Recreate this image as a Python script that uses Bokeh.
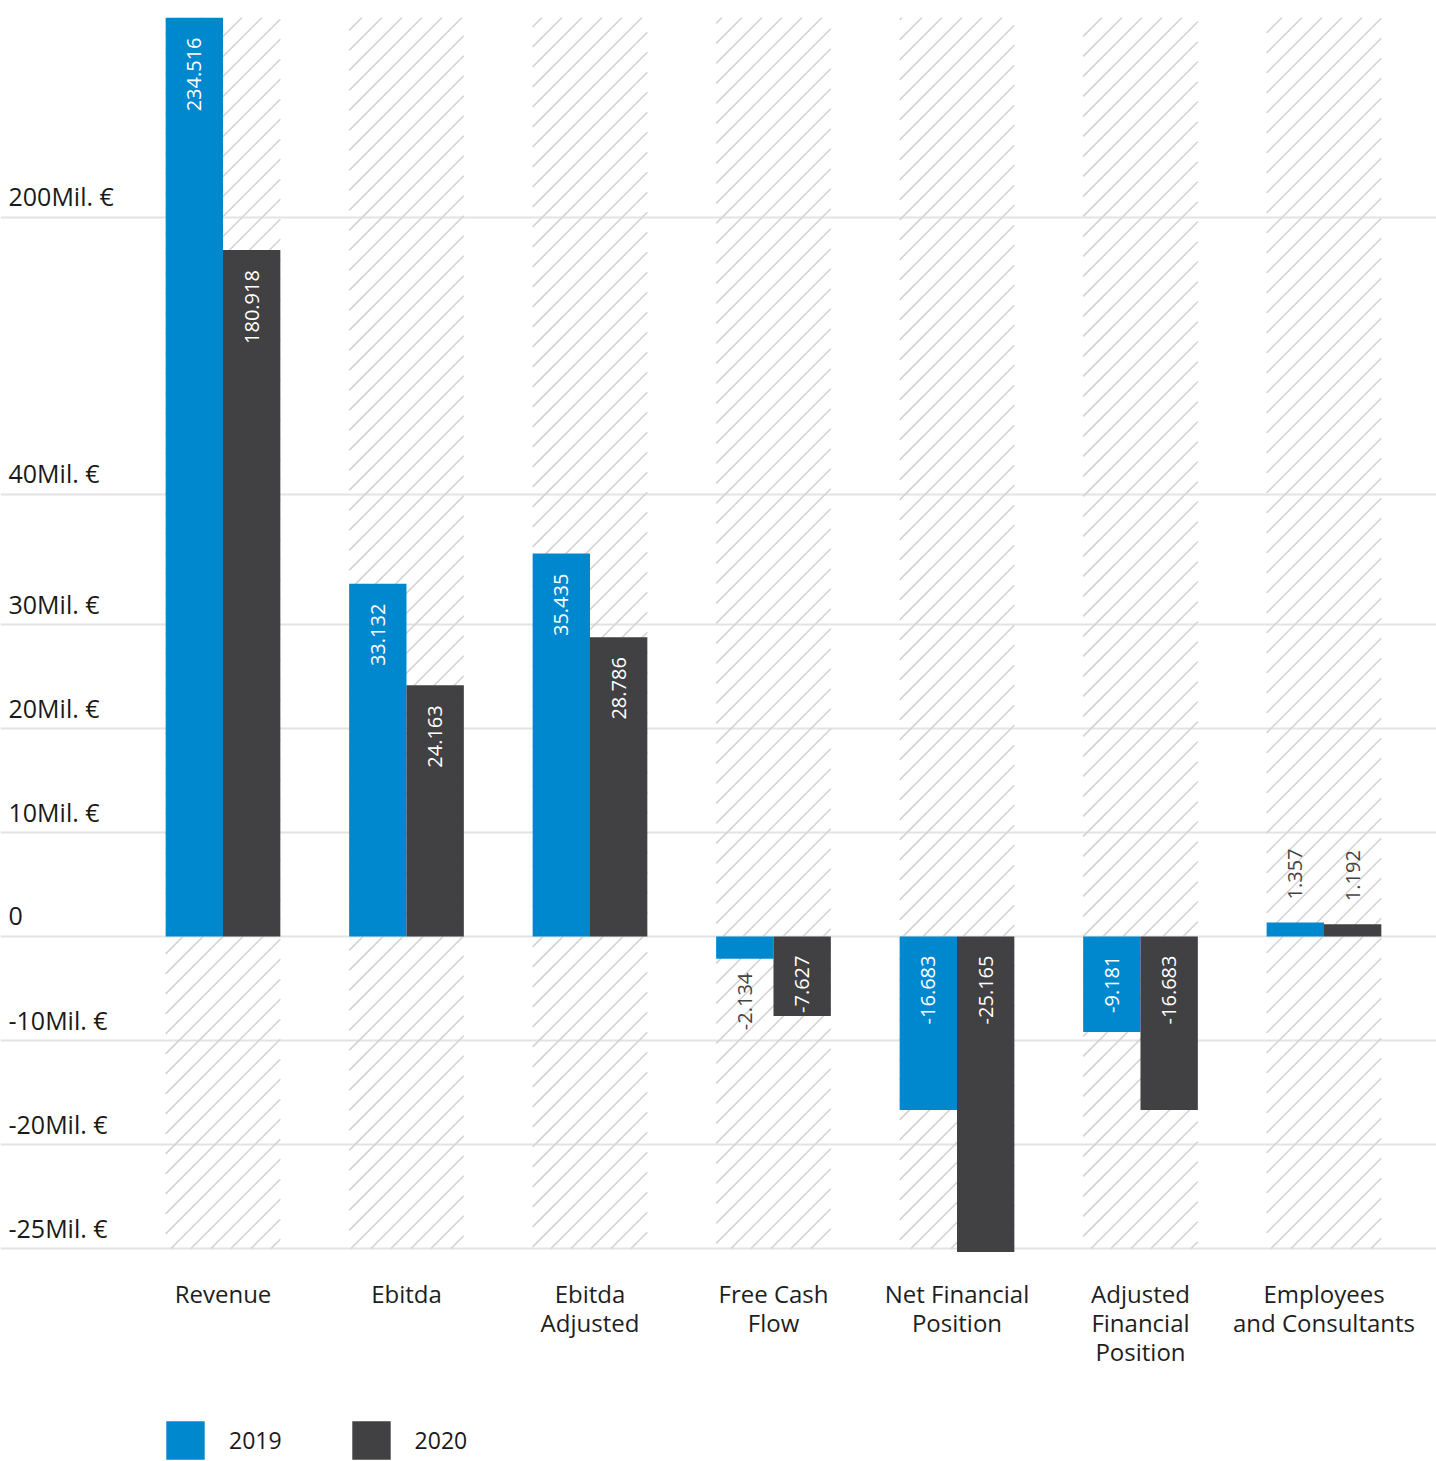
import numpy as np
from bokeh.plotting import figure
from bokeh.models import ColumnDataSource, Range1d, FixedTicker, Legend, LegendItem
from bokeh.core.properties import value
from bokeh.embed import file_html
from bokeh.resources import INLINE

# ---------------- data ----------------
categories = ["Revenue", "Ebitda", "Ebitda\nAdjusted", "Free Cash\nFlow",
              "Net Financial\nPosition", "Adjusted\nFinancial\nPosition",
              "Employees\nand Consultants"]
values_2019 = [234.516, 33.132, 35.435, -2.134, -16.683, -9.181, 1.357]
values_2020 = [180.918, 24.163, 28.786, -7.627, -25.165, -16.683, 1.192]
years = ["2019", "2020"]
tick_values = [-25, -20, -10, 0, 10, 20, 30, 40, 200]
tick_labels = ["-25Mil. €", "-20Mil. €", "-10Mil. €", "0", "10Mil. €",
               "20Mil. €", "30Mil. €", "40Mil. €", "200Mil. €"]

# The original uses a broken, non-uniform value axis: piecewise-linear scale
scale_in = [-25, -20, -10, 0, 10, 20, 30, 40, 200, 240]
scale_out = [-30, -20, -10, 0, 10, 20, 30, 42.55, 69.18, 91.42]


def to_axis(v):
    v = np.atleast_1d(np.asarray(v, dtype=float))
    xi, yi = np.array(scale_in, float), np.array(scale_out, float)
    out = np.interp(v, xi, yi)
    lo, hi = v < xi[0], v > xi[-1]
    out[lo] = yi[0] + (v[lo] - xi[0]) * (yi[1] - yi[0]) / (xi[1] - xi[0])
    out[hi] = yi[-1] + (v[hi] - xi[-1]) * (yi[-1] - yi[-2]) / (xi[-1] - xi[-2])
    return out


BLUE = "#0088CE"
DARK = "#414042"
FONT = "Open Sans"
colors = [BLUE, DARK]

W, H = 1436, 1461
TOP_BORDER = 17
PX_PER_UNIT = 10.4
X_START = -1.2125
X_END = X_START + W / 183.5
KX = W / (X_END - X_START)

idx = np.arange(len(categories))
bar_w = 0.3125
pair_w = 2 * bar_w
y_top = float(to_axis(max(values_2019 + values_2020))[0])
y_bottom = y_top - (H - TOP_BORDER) / PX_PER_UNIT
y_floor = float(to_axis(min(tick_values))[0])

p = figure(width=W, height=H, output_backend="svg", toolbar_location=None,
           x_range=Range1d(X_START, X_END), y_range=Range1d(y_bottom, y_top),
           min_border_left=0, min_border_right=0, min_border_top=TOP_BORDER,
           min_border_bottom=0)
p.outline_line_color = None
p.background_fill_color = "white"
p.border_fill_color = "white"
p.xaxis.visible = False
p.yaxis.visible = False
p.xgrid.visible = False

p.ygrid.ticker = FixedTicker(ticks=list(to_axis(tick_values)))
p.ygrid.grid_line_color = "#e3e3e3"
p.ygrid.grid_line_width = 2

# hatched background columns: 45-degree lines, 20px apart, clipped to each column
HATCH_STEP = 20
hx0, hy0, hx1, hy1 = [], [], [], []
for cx in idx:
    u0, u1 = (cx - pair_w / 2) * KX, (cx + pair_w / 2) * KX
    w0, w1 = y_floor * PX_PER_UNIT, y_top * PX_PER_UNIT
    c = np.ceil((w0 - u1) / HATCH_STEP) * HATCH_STEP
    while c <= w1 - u0:
        ua, ub = max(u0, w0 - c), min(u1, w1 - c)
        if ub > ua:
            hx0.append(ua / KX); hy0.append((ua + c) / PX_PER_UNIT)
            hx1.append(ub / KX); hy1.append((ub + c) / PX_PER_UNIT)
        c += HATCH_STEP
p.segment(hx0, hy0, hx1, hy1, line_color="#d2d2d2", line_width=1.5)

renderers = []
lab_r = dict(x=[], y=[], t=[], off=[], c=[])
lab_l = dict(x=[], y=[], t=[], off=[], c=[])
for k, (vals, col) in enumerate(zip([values_2019, values_2020], colors)):
    xs = idx + (k - 0.5) * bar_w
    disp = to_axis(vals)
    src = ColumnDataSource(dict(x=xs, top=disp, bottom=np.zeros(len(vals))))
    r = p.vbar(x="x", width=bar_w, top="top", bottom="bottom", source=src,
               fill_color=col, line_color=None)
    renderers.append(r)
    for x, v, a in zip(xs, vals, disp):
        txt = f"{v:.3f}"
        if abs(a) >= 5:
            if v > 0:
                lab_r["y"].append(a); lab_r["off"].append(20)
            else:
                lab_r["y"].append(0.0); lab_r["off"].append(19)
            lab_r["x"].append(x); lab_r["t"].append(txt); lab_r["c"].append("white")
        else:
            if v > 0:
                lab_l["x"].append(x); lab_l["y"].append(a); lab_l["off"].append(-23)
                lab_l["t"].append(txt); lab_l["c"].append("#444444")
            else:
                lab_r["x"].append(x); lab_r["y"].append(a); lab_r["off"].append(14)
                lab_r["t"].append(txt); lab_r["c"].append("#444444")

for d, align in [(lab_r, "right"), (lab_l, "left")]:
    p.text(x="x", y="y", text="t", y_offset="off", text_color="c", source=ColumnDataSource(d),
           angle=np.pi / 2, text_align=align, text_baseline="middle",
           text_font=value(FONT), text_font_size="20px")

# value-axis tick labels, drawn above their gridlines at the left edge
p.text(x=[X_START] * len(tick_values), y=to_axis(tick_values), text=tick_labels,
       x_offset=8, y_offset=-21, text_align="left", text_baseline="alphabetic",
       text_font=value(FONT), text_font_size="25px", text_color="#1a1a1a")

# category labels under the columns
p.text(x=idx, y=[y_floor] * len(idx), text=categories,
       y_offset=28, text_align="center", text_baseline="top", text_line_height=0.89,
       text_font=value(FONT), text_font_size="24px", text_color="#1e1e1e")

legend = Legend(items=[LegendItem(label=y, renderers=[r]) for y, r in zip(years, renderers)],
                orientation="horizontal", location=(161, -3), glyph_width=48, glyph_height=48,
                label_height=48, label_standoff=20, spacing=65, padding=0, margin=0,
                border_line_color=None, background_fill_alpha=0,
                label_text_font=FONT, label_text_font_size="23px",
                label_text_color="#1a1a1a", label_text_baseline="hanging")
p.add_layout(legend)

open("out.html", "w").write(file_html(p, INLINE))
